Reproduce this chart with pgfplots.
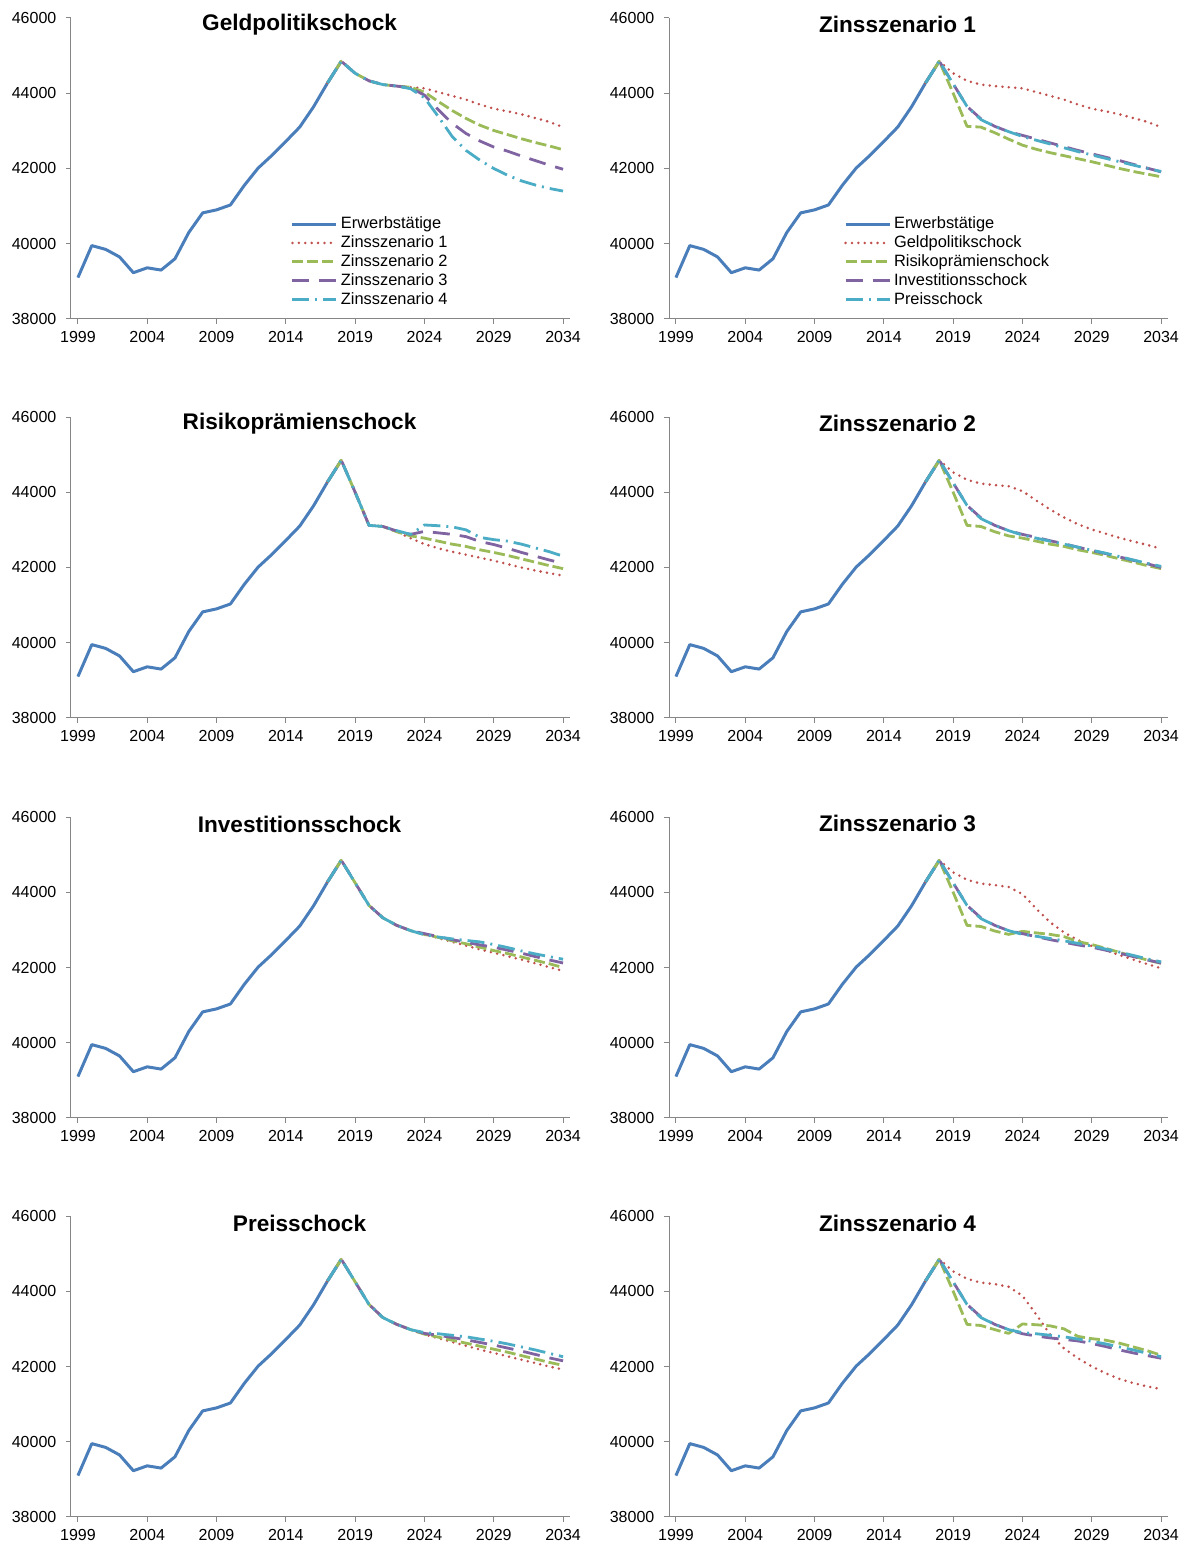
\documentclass[border=0pt]{standalone}
\usepackage{fontspec}
\setmainfont{Liberation Sans}
\usepackage{pgfplots}
\usepackage{pgfplotstable}
\pgfplotsset{compat=1.18}

\definecolor{cblue}{HTML}{4A7EBB}
\definecolor{cred}{HTML}{C0504D}
\definecolor{cgreen}{HTML}{9BBB59}
\definecolor{cpurple}{HTML}{8064A2}
\definecolor{ccyan}{HTML}{4BACC6}
\definecolor{caxis}{HTML}{868686}

% Erwerbstaetige (Tsd.)
\pgfplotstableread{
year E
1999 39100
2000 39950
2001 39850
2002 39650
2003 39230
2004 39360
2005 39300
2006 39600
2007 40300
2008 40820
2009 40900
2010 41030
2011 41550
2012 42010
2013 42350
2014 42720
2015 43100
2016 43640
2017 44270
2018 44850
}\erwerb

% G = Geldpolitik, R = Risikopraemie, I = Investition, P = Preis; 1-4 = Zinsszenario
\pgfplotstableread{
year G1 G2 G3 G4 R1 R2 R3 R4 I1 I2 I3 I4 P1 P2 P3 P4
2017 44270 44270 44270 44270 44270 44270 44270 44270 44270 44270 44270 44270 44270 44270 44270 44270
2018 44850 44850 44850 44850 44850 44850 44850 44850 44850 44850 44850 44850 44850 44850 44850 44850
2019 44530 44530 44530 44530 44000 44000 44000 44000 44250 44250 44250 44250 44250 44250 44250 44250
2020 44330 44330 44330 44330 43120 43120 43120 43120 43650 43650 43650 43650 43650 43650 43650 43650
2021 44230 44230 44230 44230 43100 43090 43090 43090 43320 43320 43320 43320 43300 43300 43300 43300
2022 44190 44190 44190 44190 42950 42950 42970 42980 43120 43120 43120 43120 43120 43120 43120 43120
2023 44160 44160 44140 44120 42780 42840 42880 42880 42980 42980 42980 42980 42980 42980 42980 42980
2024 44130 44030 43950 43880 42620 42780 42960 43130 42880 42880 42900 42870 42850 42860 42880 42900
2025 44030 43780 43560 43380 42510 42700 42920 43110 42780 42800 42820 42810 42750 42780 42830 42870
2026 43930 43540 43200 42850 42420 42620 42880 43080 42680 42710 42740 42760 42650 42700 42770 42830
2027 43830 43330 42930 42480 42340 42560 42820 43000 42580 42630 42670 42720 42550 42620 42710 42790
2028 43700 43150 42730 42220 42260 42470 42690 42800 42480 42540 42600 42680 42450 42540 42640 42730
2029 43590 43010 42570 42000 42180 42400 42610 42740 42390 42450 42540 42610 42360 42460 42570 42670
2030 43520 42900 42460 41820 42090 42320 42510 42700 42300 42370 42460 42530 42270 42380 42490 42600
2031 43440 42790 42330 41670 42000 42230 42400 42620 42210 42280 42380 42440 42180 42290 42410 42520
2032 43340 42690 42210 41560 41920 42140 42300 42520 42110 42190 42290 42360 42090 42200 42320 42440
2033 43240 42600 42090 41470 41850 42050 42200 42420 42010 42100 42200 42290 42000 42110 42230 42350
2034 43100 42500 41980 41400 41780 41970 42110 42300 41910 42000 42120 42220 41920 42030 42150 42260
}\szen

% Titel innerhalb der Achse, wie im Original
\newcommand{\paneltitle}[1]{\node[anchor=center, inner sep=0pt,
  font=\bfseries\fontsize{11.3}{13}\selectfont] at (rel axis cs:0.458,0.977) {#1};}

\pgfplotsset{
  panel/.style={
    scale only axis, width=249.5pt, height=150.5pt, anchor=north west,
    xmin=1998.5, xmax=2034.5, ymin=38000, ymax=46000,
    xtick={1999,2004,2009,2014,2019,2024,2029,2034},
    xticklabels={1999,2004,2009,2014,2019,2024,2029,2034},
    ytick={38000,40000,42000,44000,46000},
    yticklabels={38000,40000,42000,44000,46000},
    scaled y ticks=false, scaled x ticks=false,
    axis x line*=bottom, axis y line*=left,
    axis line style={caxis, line width=0.5pt},
    tick style={caxis, line width=0.5pt}, tick align=outside, major tick length=2.5pt,
    ticklabel style={font=\fontsize{8}{9}\selectfont},
    yticklabel style={xshift=-1.3pt},
    clip=false,
    legend style={draw=none, fill=none, anchor=north west, inner sep=0pt,
      font=\fontsize{8.2}{9.5}\selectfont, row sep=0pt,
      nodes={inner xsep=1.5pt, inner ysep=1pt}},
    legend cell align=left,
    legend image code/.code={\draw[##1] (0pt,0pt) -- (22pt,0pt);},
    every axis plot/.append style={no markers, line join=round},
  },
  ewt/.style={color=cblue, line width=1.5pt},
  s1/.style={color=cred, line width=1.4pt, line cap=round, dash pattern=on 0pt off 3.2pt},
  s2/.style={color=cgreen, line width=1.4pt, dash pattern=on 5.5pt off 2pt},
  s3/.style={color=cpurple, line width=1.4pt, dash pattern=on 8.5pt off 5pt},
  s4/.style={color=ccyan, line width=1.4pt, dash pattern=on 8.5pt off 3pt on 1pt off 3pt},
}

\begin{document}
\begin{tikzpicture}
\path[use as bounding box] (0,0) rectangle (593.5pt,-772.5pt);

% ---- Zeile 1 ----
\begin{axis}[panel, at={(35.5pt,-9pt)}, legend style={at={(0.44,0.348)}}]
\addplot[ewt] table[x=year,y=E]{\erwerb};
\addplot[s1] table[x=year,y=G1]{\szen};
\addplot[s2] table[x=year,y=G2]{\szen};
\addplot[s3] table[x=year,y=G3]{\szen};
\addplot[s4] table[x=year,y=G4]{\szen};
\legend{Erwerbstätige, Zinsszenario 1, Zinsszenario 2, Zinsszenario 3, Zinsszenario 4}
\paneltitle{Geldpolitikschock}
\end{axis}

\begin{axis}[panel, at={(334.5pt,-9pt)}, legend style={at={(0.35,0.348)}}]
\addplot[ewt] table[x=year,y=E]{\erwerb};
\addplot[s1] table[x=year,y=G1]{\szen};
\addplot[s2] table[x=year,y=R1]{\szen};
\addplot[s3] table[x=year,y=I1]{\szen};
\addplot[s4] table[x=year,y=P1]{\szen};
\legend{Erwerbstätige, Geldpolitikschock, Risikoprämienschock, Investitionsschock, Preisschock}
\paneltitle{Zinsszenario 1}
\end{axis}

% ---- Zeile 2 ----
\begin{axis}[panel, at={(35.5pt,-208.5pt)}]
\addplot[ewt] table[x=year,y=E]{\erwerb};
\addplot[s1] table[x=year,y=R1]{\szen};
\addplot[s2] table[x=year,y=R2]{\szen};
\addplot[s3] table[x=year,y=R3]{\szen};
\addplot[s4] table[x=year,y=R4]{\szen};
\paneltitle{Risikoprämienschock}
\end{axis}

\begin{axis}[panel, at={(334.5pt,-208.5pt)}]
\addplot[ewt] table[x=year,y=E]{\erwerb};
\addplot[s1] table[x=year,y=G2]{\szen};
\addplot[s2] table[x=year,y=R2]{\szen};
\addplot[s3] table[x=year,y=I2]{\szen};
\addplot[s4] table[x=year,y=P2]{\szen};
\paneltitle{Zinsszenario 2}
\end{axis}

% ---- Zeile 3 ----
\begin{axis}[panel, at={(35.5pt,-408.5pt)}]
\addplot[ewt] table[x=year,y=E]{\erwerb};
\addplot[s1] table[x=year,y=I1]{\szen};
\addplot[s2] table[x=year,y=I2]{\szen};
\addplot[s3] table[x=year,y=I3]{\szen};
\addplot[s4] table[x=year,y=I4]{\szen};
\paneltitle{Investitionsschock}
\end{axis}

\begin{axis}[panel, at={(334.5pt,-408.5pt)}]
\addplot[ewt] table[x=year,y=E]{\erwerb};
\addplot[s1] table[x=year,y=G3]{\szen};
\addplot[s2] table[x=year,y=R3]{\szen};
\addplot[s3] table[x=year,y=I3]{\szen};
\addplot[s4] table[x=year,y=P3]{\szen};
\paneltitle{Zinsszenario 3}
\end{axis}

% ---- Zeile 4 ----
\begin{axis}[panel, at={(35.5pt,-608pt)}]
\addplot[ewt] table[x=year,y=E]{\erwerb};
\addplot[s1] table[x=year,y=P1]{\szen};
\addplot[s2] table[x=year,y=P2]{\szen};
\addplot[s3] table[x=year,y=P3]{\szen};
\addplot[s4] table[x=year,y=P4]{\szen};
\paneltitle{Preisschock}
\end{axis}

\begin{axis}[panel, at={(334.5pt,-608pt)}]
\addplot[ewt] table[x=year,y=E]{\erwerb};
\addplot[s1] table[x=year,y=G4]{\szen};
\addplot[s2] table[x=year,y=R4]{\szen};
\addplot[s3] table[x=year,y=I4]{\szen};
\addplot[s4] table[x=year,y=P4]{\szen};
\paneltitle{Zinsszenario 4}
\end{axis}
\end{tikzpicture}
\end{document}
